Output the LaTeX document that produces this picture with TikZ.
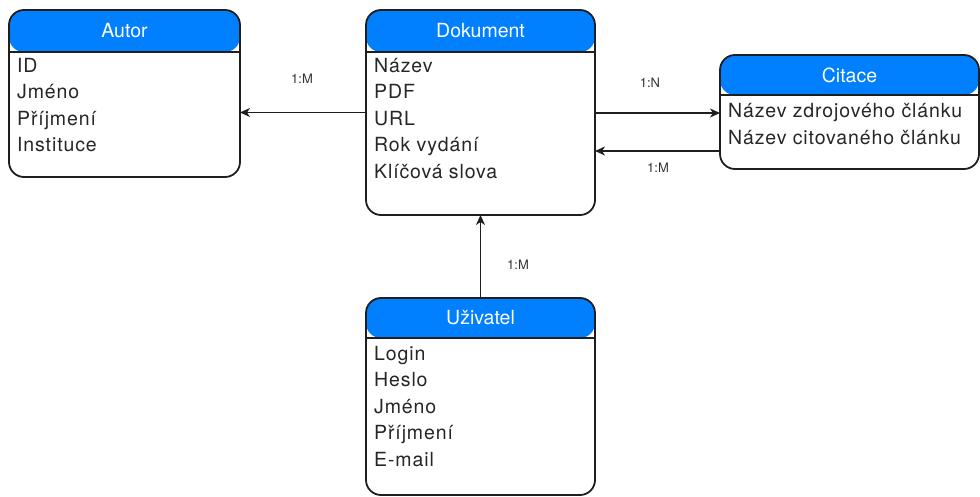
\documentclass[tikz,border=0pt]{standalone}
\usepackage{fontspec}
\setmainfont{TeX Gyre Heros}
\newfontfamily\fieldfont[LetterSpace=4.5]{TeX Gyre Heros}
\usetikzlibrary{arrows.meta,calc}
\definecolor{hdrblue}{RGB}{0,127,255}
\definecolor{edge}{RGB}{30,30,30}
\tikzset{
  entity/.style={draw=edge, line width=1.8pt, rounded corners=15pt,
    rectangle, inner sep=0pt, outer sep=0pt, anchor=north west, fill=white,
    path picture={
      \fill[hdrblue] (path picture bounding box.north west)
        rectangle ([yshift=-#1]path picture bounding box.north east);
      \draw[edge, line width=1.6pt]
        ([yshift=-#1]path picture bounding box.north west)
        -- ([yshift=-#1]path picture bounding box.north east);
    }},
  hdrtext/.style={text=white, font=\fontsize{19.5}{24}\selectfont, inner sep=0pt},
  fields/.style={align=left, anchor=north west, inner sep=0pt,
    font=\fieldfont\fontsize{19.5}{26.5}\selectfont, text=black!85},
  card/.style={font=\fontsize{13}{15}\selectfont, text=black!80, inner sep=0pt},
  rel/.style={draw=edge, line width=1.4pt,
    -{Stealth[length=10pt,width=9pt,inset=3pt]}}
}
\begin{document}
\begin{tikzpicture}[x=1pt,y=-1pt]
\useasboundingbox (0,0) rectangle (980,497);

% entities
\node[entity=42pt, minimum width=231pt, minimum height=167pt] (autor) at (9,10) {};
\node[entity=42pt, minimum width=229pt, minimum height=205pt] (dok) at (366,10) {};
\node[entity=40pt, minimum width=259pt, minimum height=114pt] (citace) at (720,55) {};
\node[entity=40pt, minimum width=229pt, minimum height=197pt] (uzivatel) at (366,298) {};

% entity titles
\node[hdrtext] (autorT) at ([yshift=-21pt]autor.north) {Autor};
\node[hdrtext] (dokT) at ([yshift=-21pt]dok.north) {Dokument};
\node[hdrtext] (citaceT) at ([yshift=-20pt]citace.north) {Citace};
\node[hdrtext] (uzivatelT) at ([yshift=-20pt]uzivatel.north) {Uživatel};

% attribute lists (a strut fixes the first baseline below the top)
\node[fields] (autorF) at ([xshift=8pt,yshift=-43.5pt]autor.north west)
  {\strut ID\\Jméno\\Příjmení\\Instituce};
\node[fields] (dokF) at ([xshift=8pt,yshift=-43.5pt]dok.north west)
  {\strut Název\\PDF\\URL\\Rok vydání\\Klíčová slova};
\node[fields] (citaceF) at ([xshift=8pt,yshift=-44pt]citace.north west)
  {\strut Název zdrojového článku\\Název citovaného článku};
\node[fields] (uzivatelF) at ([xshift=8pt,yshift=-43.5pt]uzivatel.north west)
  {\strut Login\\Heslo\\Jméno\\Příjmení\\E-mail};

% relationships
\coordinate (yA) at (0,112.5);
\coordinate (yB) at (0,113);
\coordinate (yC) at (0,151);
\draw[rel] (dok.west |- yA) -- (autor.east |- yA);
\draw[rel] (dok.east |- yB) -- (citace.west |- yB);
\draw[rel] (citace.west |- yC) -- (dok.east |- yC);
\draw[rel] (uzivatel.north) -- (dok.south);

% cardinalities
\node[card] (c1) at (302,79) {1:M};
\node[card] (c2) at (650,83) {1:N};
\node[card] (c3) at (658,168) {1:M};
\node[card] (c4) at (518,265) {1:M};
\end{tikzpicture}
\end{document}
